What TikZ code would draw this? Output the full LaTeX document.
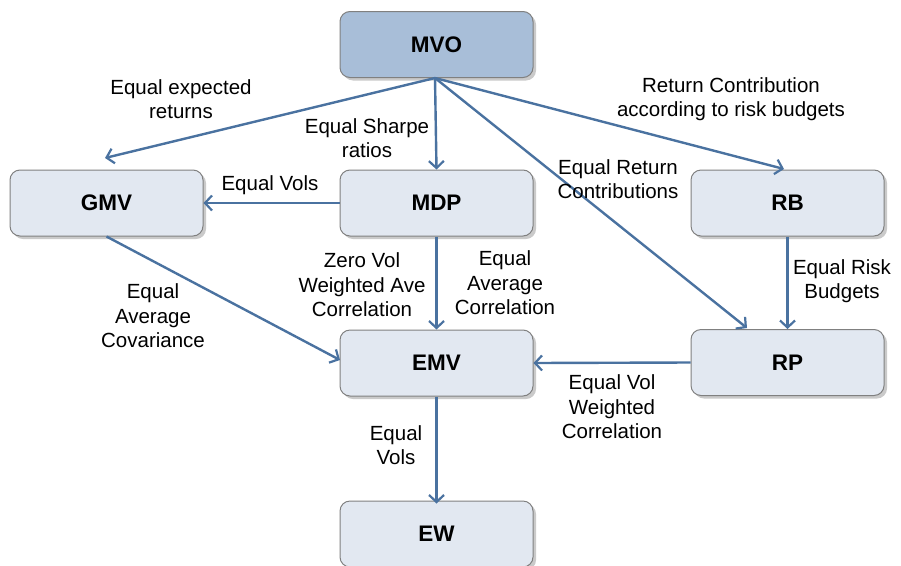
\documentclass[tikz,border=0pt]{standalone}
\usepackage{fontspec}
\setmainfont{Liberation Sans}
\usetikzlibrary{arrows.meta,shadows}
\definecolor{arr}{RGB}{74,114,160}
\definecolor{boxfill}{RGB}{226,232,241}
\definecolor{mvofill}{RGB}{168,190,216}
\definecolor{boxline}{RGB}{128,128,128}
\begin{document}
\begin{tikzpicture}[x=1pt,y=-1pt,
  box/.style={draw=boxline, line width=1pt, rounded corners=10pt, fill=boxfill,
    minimum width=193pt, minimum height=66pt,
    font=\fontsize{22.5}{24}\selectfont\bfseries,
    drop shadow={shadow xshift=3pt, shadow yshift=-3pt, opacity=0.35, fill=black!60}},
  con/.style={draw=arr, line width=2.4pt, -{Straight Barb[length=7pt,width=15pt,line width=2.2pt]}},
  lab/.style={font=\fontsize{20.5}{24.5}\selectfont, align=center, inner sep=0pt}]
\useasboundingbox (0,0) rectangle (901,565);
\node[box, fill=mvofill] (mvo) at (436.5,44.5) {MVO};
\node[box] (gmv) at (106.5,203) {GMV};
\node[box] (mdp) at (436.5,203) {MDP};
\node[box] (rb) at (787.5,203) {RB};
\node[box] (emv) at (436.5,363) {EMV};
\node[box] (rp) at (787.5,362.5) {RP};
\node[box] (ew) at (436.5,534) {EW};
\coordinate (mvoout) at (435,78);
\coordinate (gmvin) at (105,158);
\coordinate (rbin) at (784,169);
\coordinate (rpin) at (747,328);
\coordinate (emvin) at (340,360);
\draw[con] (mvoout) -- (gmvin);
\draw[con] (mvoout) -- (mdp.north);
\draw[con] (mvoout) -- (rbin);
\draw[con] (mvoout) -- (rpin);
\draw[con] (mdp.west) -- (gmv.east);
\draw[con] (gmv.south) -- (emvin);
\draw[con] (mdp.south) -- (emv.north);
\draw[con] (rp.west) -- (emv.east);
\draw[con] (rb.south) -- (rp.north);
\draw[con] (emv.south) -- ([yshift=-3pt]ew.north);
\node[lab] (l1) at (181,99) {Equal expected\\returns};
\node[lab] (l2) at (367,138) {Equal Sharpe\\ratios};
\node[lab] (l3) at (731,99) {Return Contribution\\according to risk budgets};
\node[lab] (l4) at (618,179) {Equal Return\\Contributions};
\node[lab] (l5) at (270,185) {Equal Vols};
\node[lab] (l6) at (362,285) {Zero Vol\\Weighted Ave\\Correlation};
\node[lab] (l7) at (505,283) {Equal\\Average\\Correlation};
\node[lab] (l8) at (153,316) {Equal\\Average\\Covariance};
\node[lab] (l9) at (842,281) {Equal Risk\\Budgets};
\node[lab] (l10) at (612,407) {Equal Vol\\Weighted\\Correlation};
\node[lab] (l11) at (396,445) {Equal\\Vols};
\end{tikzpicture}
\end{document}
